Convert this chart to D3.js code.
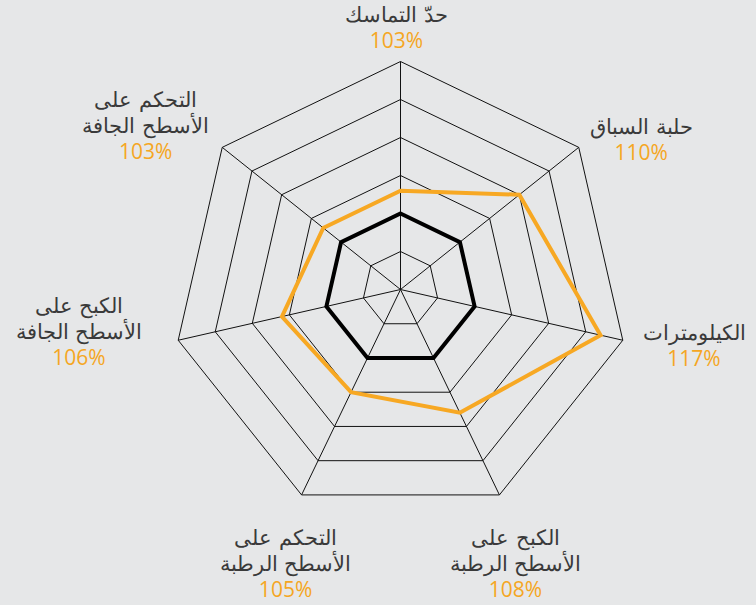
<!DOCTYPE html>
<html>
<head>
<meta charset="utf-8">
<script src="https://cdn.jsdelivr.net/npm/d3@7"></script>
<style>
  body { margin: 0; background: #e6e7e8; }
  svg { display: block; }
  .name { font-family: "DejaVu Sans", sans-serif; font-weight: 200; font-size: 21px; fill: #3a3a3a; }
  .pct { font-family: "Open Sans", sans-serif; font-weight: 400; font-size: 21px; fill: #f5a623; }
</style>
</head>
<body>
<script>
// axis names clockwise from top, split into lines
var axes = [
    ["حدّ التماسك"],
    ["حلبة السباق"],
    ["الكيلومترات"],
    ["الكبح على", "الأسطح الرطبة"],
    ["التحكم على", "الأسطح الرطبة"],
    ["الكبح على", "الأسطح الجافة"],
    ["التحكم على", "الأسطح الجافة"]
];
var values = [103, 110, 117, 108, 105, 106, 103];   // orange series (%)
var baseline = [100, 100, 100, 100, 100, 100, 100]; // reference (black)
var ringTicks = [95, 100, 105, 110, 115, 120];

var w = 756, h = 605;
var cx = 400.5, cy = 289.5, R = 228;

// label nudges [dx, dy] from the point just outside each spoke
var labelNudge = [[-4, -10], [39, 5], [42, -7], [3, 23], [-3, 23], [-70, -34], [-53, -22]];

var svg = d3.select("body").append("svg")
    .attr("width", w)
    .attr("height", h);

svg.append("rect")
    .attr("width", w)
    .attr("height", h)
    .attr("fill", "#e6e7e8");

var r = d3.scaleLinear().domain([90, 120]).range([0, R]);
var angle = d3.scaleLinear().domain([0, axes.length]).range([0, 2 * Math.PI]);

function pt(i, v) {
    var a = angle(i);
    return [cx + r(v) * Math.sin(a), cy - r(v) * Math.cos(a)];
}

var line = d3.line().curve(d3.curveLinearClosed);

var g = svg.append("g");

// rings
g.selectAll(".ring")
    .data(ringTicks)
    .enter()
    .append("path")
    .attr("class", "ring")
    .attr("d", function(t){
        return line(axes.map(function(d, i){ return pt(i, t); }));
    })
    .attr("fill", "none")
    .attr("stroke", "#111")
    .attr("stroke-width", 1);

// spokes
g.selectAll(".spoke")
    .data(axes)
    .enter()
    .append("line")
    .attr("class", "spoke")
    .attr("x1", cx)
    .attr("y1", cy)
    .attr("x2", function(d, i){ return pt(i, 120)[0]; })
    .attr("y2", function(d, i){ return pt(i, 120)[1]; })
    .attr("stroke", "#111")
    .attr("stroke-width", 1);

// 100% reference
g.append("path")
    .attr("d", line(baseline.map(function(v, i){ return pt(i, v); })))
    .attr("fill", "none")
    .attr("stroke", "#000")
    .attr("stroke-width", 4)
    .attr("stroke-linejoin", "miter");

// values
g.append("path")
    .attr("d", line(values.map(function(v, i){ return pt(i, v); })))
    .attr("fill", "none")
    .attr("stroke", "#f7a823")
    .attr("stroke-width", 4)
    .attr("stroke-linejoin", "miter");

// labels
var lineGap = 26;
var labels = svg.selectAll(".label")
    .data(axes)
    .enter()
    .append("g")
    .attr("class", "label")
    .attr("transform", function(d, i){
        var a = angle(i), rr = R + 30;
        var x = cx + rr * Math.sin(a) + labelNudge[i][0];
        var y = cy - rr * Math.cos(a) + labelNudge[i][1];
        return "translate(" + x + "," + y + ")";
    });

labels.each(function(d, i){
    var lg = d3.select(this);
    d.forEach(function(s, k){
        lg.append("text")
            .attr("class", "name")
            .attr("text-anchor", "middle")
            .attr("y", k * lineGap)
            .text(s);
    });
    lg.append("text")
        .attr("class", "pct")
        .attr("text-anchor", "middle")
        .attr("y", d.length * lineGap)
        .text(values[i] + "%");
});
</script>
</body>
</html>
